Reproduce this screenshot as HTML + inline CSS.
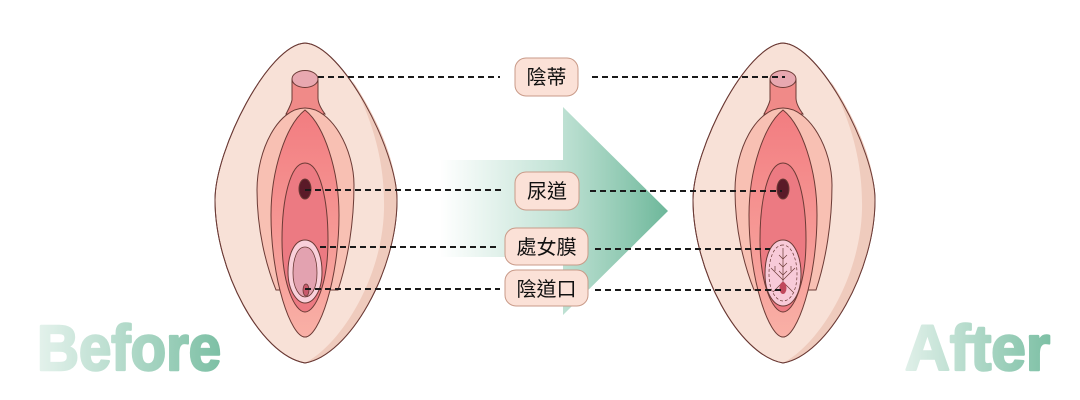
<!DOCTYPE html>
<html><head><meta charset="utf-8"><style>
html,body{margin:0;padding:0;background:#fff;}
svg{display:block}
text{font-family:"Liberation Sans","Noto Sans CJK TC",sans-serif;}
</style></head><body>
<svg width="1080" height="400" viewBox="0 0 1080 400" xmlns="http://www.w3.org/2000/svg">
<defs>
<linearGradient id="ag" x1="440" y1="0" x2="668" y2="0" gradientUnits="userSpaceOnUse">
<stop offset="0" stop-color="#7cc2a6" stop-opacity="0"/>
<stop offset="0.5" stop-color="#7cc2a6" stop-opacity="0.45"/>
<stop offset="1" stop-color="#6db79a" stop-opacity="1"/>
</linearGradient>
<linearGradient id="tg1" x1="38" y1="0" x2="220" y2="0" gradientUnits="userSpaceOnUse">
<stop offset="0" stop-color="#e4f2ec"/><stop offset="1" stop-color="#7dc0a5"/>
</linearGradient>
<linearGradient id="tg2" x1="905" y1="0" x2="1050" y2="0" gradientUnits="userSpaceOnUse">
<stop offset="0" stop-color="#e0f0e9"/><stop offset="1" stop-color="#7dc0a5"/>
</linearGradient>
<linearGradient id="rg" x1="0" y1="108" x2="0" y2="337" gradientUnits="userSpaceOnUse">
<stop offset="0" stop-color="#f27c80"/><stop offset="1" stop-color="#f9b0a6"/>
</linearGradient>
<g id="fig" stroke="#6b3a35" stroke-width="1">
<path d="M305,43 C268,45 215,150 215,200 C215,270 260,355 305,363 C350,355 397,270 397,200 C397,150 342,45 305,43Z" fill="#f8e1d7"/>
<path d="M352,80 C385,130 397,170 397,200 C397,270 350,355 305,363 C340,345 382,280 384,210 C385,160 372,120 352,80Z" fill="#efcbbd" stroke="none"/>
<path d="M305,43 C268,45 215,150 215,200 C215,270 260,355 305,363 C350,355 397,270 397,200 C397,150 342,45 305,43Z" fill="none"/>
<path d="M292,80 L292,100 C291,105 288,110 286,114 L325,114 C322,110 318,104 318,98 L318,80Z" fill="#f08a88"/>
<ellipse cx="305" cy="79" rx="13" ry="8.5" fill="#e8a8b0"/>
<path d="M305,108 C278,108 257,150 257,190 C257,230 266,265 276,290 L282,290 C290,320 298,337 305,337 C313,337 322,318 330,290 L338,290 C348,260 354,222 354,185 C354,150 332,108 305,108Z" fill="#f8c0b3"/>
<path d="M305,110 C286,125 271,170 271,215 C271,280 291,337 305,337 C319,337 339,280 339,215 C339,170 324,125 305,110Z" fill="url(#rg)"/>
<path d="M305,163 C290,163 282,200 282,240 C282,285 295,312 305,312 C315,312 328,285 328,240 C328,200 320,163 305,163Z" fill="#ec7a82"/>
<ellipse cx="305" cy="189" rx="6" ry="10" fill="#5a1a28"/>
</g>
</defs>

<path d="M440,160 L563,160 L563,107 L668,211 L563,315 L563,257 L440,257Z" fill="url(#ag)"/>

<use href="#fig"/>
<path d="M305,240 C294,240 288,255 288,272 C288,292 298,303 305,303 C313,303 322,292 322,272 C322,255 316,240 305,240Z" fill="#f9d0da" stroke="#6b3a35" stroke-width="1"/>
<path d="M305,247 C297,247 293,259 293,273 C293,289 300,297 305,297 C311,297 317,289 317,273 C317,259 313,247 305,247Z" fill="#e3a2b0" stroke="#6b3a35" stroke-width="0.8"/>
<ellipse cx="306" cy="290" rx="3" ry="6" fill="#c85a6c" stroke="#6b3a35" stroke-width="0.8"/>

<g transform="translate(478,0)">
<use href="#fig"/>
<path d="M305,240 C293,240 287,256 287,274 C287,295 297,306 305,306 C314,306 323,295 323,274 C323,256 316,240 305,240Z" fill="#f8cad8" stroke="#6b3a35" stroke-width="1"/>
<path d="M305,245 C296,245 291,258 291,274 C291,292 299,301 305,301 C312,301 319,292 319,274 C319,258 313,245 305,245Z" fill="none" stroke="#6b3a35" stroke-width="0.7" stroke-dasharray="3,2"/>
<g stroke="#6b3a35" stroke-width="0.7" fill="none">
<path d="M305,248 L305,290"/>
<path d="M301,255 L305,259 L309,255 M301,263 L305,267 L309,263 M301,271 L305,275 L309,271"/>
<path d="M305,280 L293,268 M305,282 L295,292 M305,280 L317,268 M305,282 L315,292 M297,271 L297,266 M313,271 L313,266"/>
</g>
<ellipse cx="305" cy="288" rx="3.5" ry="6" fill="#c0485c" stroke="none"/>
</g>

<g stroke="#1a1a1a" stroke-width="2" stroke-dasharray="6,4">
<line x1="318" y1="77" x2="500" y2="77"/><line x1="592" y1="77" x2="785" y2="77"/>
<line x1="305" y1="190" x2="505" y2="190"/><line x1="590" y1="191" x2="782" y2="191"/>
<line x1="320" y1="247" x2="500" y2="247"/><line x1="595" y1="249" x2="770" y2="249"/>
<line x1="305" y1="289" x2="500" y2="289"/><line x1="595" y1="290" x2="782" y2="290"/>
</g>

<g fill="#fbe1d7" stroke="#c99a88" stroke-width="1">
<rect x="515" y="58" width="63" height="38" rx="11"/>
<rect x="515" y="172" width="64" height="38" rx="11"/>
<rect x="505" y="228" width="83" height="37" rx="11"/>
<rect x="505" y="270" width="83" height="36" rx="11"/>
</g>
<g font-size="20" fill="#111" text-anchor="middle">
<text x="546.5" y="84">陰蒂</text>
<text x="547" y="198">尿道</text>
<text x="546.5" y="254">處女膜</text>
<text x="546.5" y="296">陰道口</text>
</g>

<text x="37" y="370" font-size="64" font-weight="bold" fill="url(#tg1)" stroke="url(#tg1)" stroke-width="2.5" stroke-linejoin="round" textLength="184" lengthAdjust="spacingAndGlyphs">Before</text>
<text x="905" y="370" font-size="64" font-weight="bold" fill="url(#tg2)" stroke="url(#tg2)" stroke-width="2.5" stroke-linejoin="round" textLength="145" lengthAdjust="spacingAndGlyphs">After</text>
</svg>
</body></html>
